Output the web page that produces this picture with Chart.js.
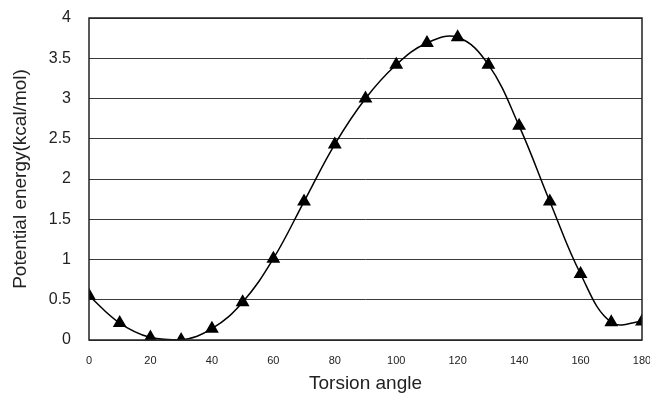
<!DOCTYPE html>
<html>
<head>
<meta charset="utf-8">
<script src="https://cdn.jsdelivr.net/npm/chart.js@4.4.0/dist/chart.umd.min.js"></script>
<style>
  html, body { margin: 0; padding: 0; background: #fff; }
  #torsionChart { display: block; }
</style>
</head>
<body>
<canvas id="torsionChart" width="650" height="395"></canvas>
<script>
// データ
const angles = [0, 10, 20, 30, 40, 50, 60, 70, 80, 90, 100, 110, 120, 130, 140, 150, 160, 170, 180];
const energies = [0.55, 0.21, 0.03, 0.0, 0.14, 0.47, 1.01, 1.72, 2.43, 3.0, 3.42, 3.69, 3.76, 3.42, 2.66, 1.72, 0.82, 0.22, 0.23];
const xTicks = [0, 20, 40, 60, 80, 100, 120, 140, 160, 180];
const yTicks = [0, 0.5, 1, 1.5, 2, 2.5, 3, 3.5, 4];

const FONT = '"Liberation Sans", Arial, sans-serif';

// 枠線
const frame = {
  id: 'frame',
  afterDraw(chart) {
    const a = chart.chartArea, c = chart.ctx;
    c.save();
    c.strokeStyle = '#222';
    c.lineWidth = 1.5;
    c.strokeRect(a.left, a.top, a.right - a.left, a.bottom - a.top);
    c.restore();
  }
};

const ctx = document.getElementById('torsionChart');
new Chart(ctx, {
  type: 'line',
  data: {
    datasets: [{
      label: 'Potential energy',
      data: angles.map((a, i) => ({ x: a, y: energies[i] })),
      borderColor: '#000',
      borderWidth: 1.5,
      backgroundColor: '#000',
      pointStyle: 'triangle',
      pointRadius: 6.5,
      pointBackgroundColor: '#000',
      pointBorderColor: '#000',
      tension: 0.4,
      fill: false
    }]
  },
  options: {
    responsive: false,
    animation: false,
    layout: { padding: { left: 0, right: 8, top: 18, bottom: 0 } },
    plugins: {
      legend: { display: false },
      tooltip: { enabled: false }
    },
    scales: {
      x: {
        type: 'linear',
        min: 0,
        max: 180,
        afterBuildTicks: s => { s.ticks = xTicks.map(v => ({ value: v })); },
        afterFit: s => { s.height = 55; s.paddingLeft = 0; s.paddingRight = 0; },
        grid: { display: false, drawTicks: false },
        border: { display: false },
        ticks: { autoSkip: false, color: '#222', font: { family: FONT, size: 11 }, padding: 14, maxRotation: 0, callback: v => String(v) },
        title: { display: true, text: 'Torsion angle', color: '#222', font: { family: FONT, size: 19 }, padding: { top: 4, bottom: 0 } }
      },
      y: {
        min: 0,
        max: 4,
        afterBuildTicks: s => { s.ticks = yTicks.map(v => ({ value: v })); },
        afterFit: s => { s.width = 89; s.paddingTop = 0; s.paddingBottom = 0; },
        grid: { color: '#3a3a3a', lineWidth: 1, drawTicks: false },
        border: { display: false },
        ticks: { autoSkip: false, color: '#222', font: { family: FONT, size: 16 }, padding: 18, callback: v => String(v) },
        title: { display: true, text: 'Potential energy(kcal/mol)', color: '#222', font: { family: FONT, size: 19 }, padding: { top: 9, bottom: 0 } }
      }
    }
  },
  plugins: [frame]
});
</script>
</body>
</html>
